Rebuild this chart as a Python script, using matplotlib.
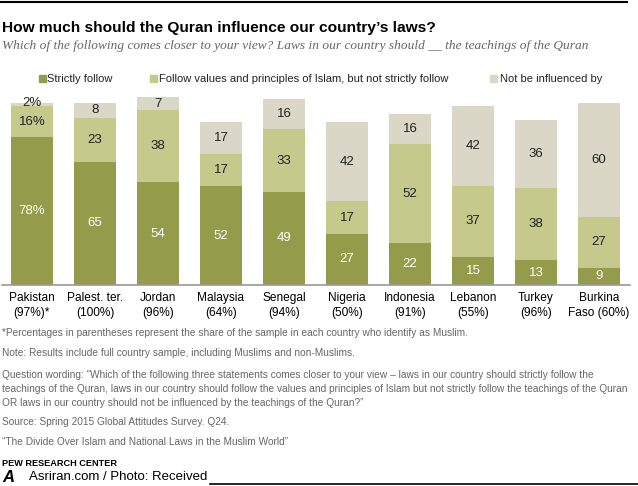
import matplotlib.pyplot as plt
import numpy as np

countries = ["Pakistan\n(97%)*", "Palest. ter.\n(100%)", "Jordan\n(96%)", "Malaysia\n(64%)",
             "Senegal\n(94%)", "Nigeria\n(50%)", "Indonesia\n(91%)", "Lebanon\n(55%)",
             "Turkey\n(96%)", "Burkina\nFaso (60%)"]
strictly = [78, 65, 54, 52, 49, 27, 22, 15, 13, 9]
values = [16, 23, 38, 17, 33, 17, 52, 37, 38, 27]
not_infl = [2, 8, 7, 17, 16, 42, 16, 42, 36, 60]
series_names = ["Strictly follow", "Follow values and principles of Islam, but not strictly follow",
                "Not be influenced by"]

C_DARK = "#949C4B"
C_MID = "#C5CA8C"
C_LIGHT = "#DAD7C6"
GRAY = "#666666"

W, H = 638, 486
fig = plt.figure(figsize=(W / 100, H / 100), dpi=100)
plt.rcParams['font.family'] = ['Liberation Sans', 'DejaVu Sans']


def fx(px):
    return px / W


def fy(py):
    return 1 - py / H


# axes: baseline at y=285px, 100 units = 190px
ax = fig.add_axes([fx(2), fy(285), fx(628), 190 / H])
x = np.arange(len(countries))
bw = 42 / 63
s = np.array(strictly)
v = np.array(values)
n = np.array(not_infl)
ax.bar(x, s, bw, color=C_DARK)
ax.bar(x, v, bw, bottom=s, color=C_MID)
ax.bar(x, n, bw, bottom=s + v, color=C_LIGHT)
ax.set_xlim((2 - 32) / 63, (630 - 32) / 63)
ax.set_ylim(0, 100)
for sp in ["top", "right", "left"]:
    ax.spines[sp].set_visible(False)
ax.spines["bottom"].set_color("#999999")
ax.spines["bottom"].set_linewidth(1.2)
ax.set_yticks([])
ax.set_xticks(x)
ax.set_xticklabels(countries, fontsize=8.6, linespacing=1.35)
ax.tick_params(axis="x", length=0, pad=5)

for i in range(len(countries)):
    suf = "%" if i == 0 else ""
    ax.text(x[i], s[i] / 2, f"{s[i]}{suf}", ha="center", va="center", color="white", fontsize=9.5)
    ax.text(x[i], s[i] + v[i] / 2, f"{v[i]}{suf}", ha="center", va="center", color="#222222", fontsize=9.5)
    ny = s[i] + v[i] + n[i] / 2
    if n[i] < 4:
        ny = s[i] + v[i] + 1.8
    ax.text(x[i], ny, f"{n[i]}{suf}", ha="center", va="center", color="#222222", fontsize=9.5)

# legend
for mx, tx, label, col in [(39, 47, series_names[0], C_DARK), (150, 159, series_names[1], C_MID),
                           (490, 500, series_names[2], C_LIGHT)]:
    fig.patches.append(plt.Rectangle((fx(mx), fy(82)), fx(7), 7 / H, color=col,
                                     transform=fig.transFigure, figure=fig))
    fig.text(fx(tx), fy(78.5), label, fontsize=8, va="center", ha="left", color="#222222")

# title block
fig.add_artist(plt.Line2D([0, fx(627)], [fy(2), fy(2)], color="black", lw=1.5, transform=fig.transFigure))
fig.text(fx(2), fy(28), "How much should the Quran influence our country\u2019s laws?",
         fontsize=11.15, fontweight="bold", va="center", ha="left")
fig.text(fx(2), fy(46), "Which of the following comes closer to your view? Laws in our country should __ the teachings of the Quran",
         fontsize=9.6, style="italic", family="Liberation Serif", color=GRAY, va="center", ha="left")

# footnotes
notes = [
    (333, "*Percentages in parentheses represent the share of the sample in each country who identify as Muslim."),
    (353, "Note: Results include full country sample, including Muslims and non-Muslims."),
    (375, "Question wording: \u201cWhich of the following three statements comes closer to your view \u2013 laws in our country should strictly follow the"),
    (389, "teachings of the Quran, laws in our country should follow the values and principles of Islam but not strictly follow the teachings of the Quran"),
    (403, "OR laws in our country should not be influenced by the teachings of the Quran?\u201d"),
    (422, "Source: Spring 2015 Global Attitudes Survey. Q24."),
    (442, "\u201cThe Divide Over Islam and National Laws in the Muslim World\u201d"),
]
for py, t in notes:
    fig.text(fx(2), fy(py), t, fontsize=7.3, color=GRAY, va="center", ha="left")
fig.text(fx(2), fy(463), "PEW RESEARCH CENTER", fontsize=6.6, fontweight="bold", color="black",
         va="center", ha="left")
fig.text(fx(2), fy(477), "A", fontsize=12, fontweight="bold", style="italic", color="black",
         va="center", ha="left")
fig.text(fx(29), fy(477), "Asriran.com / Photo: Received", fontsize=9.5, color="black",
         va="center", ha="left")
fig.add_artist(plt.Line2D([fx(210), 1], [fy(484), fy(484)], color="black", lw=1.2,
                          transform=fig.transFigure))

fig.savefig("out.png", dpi=100)
